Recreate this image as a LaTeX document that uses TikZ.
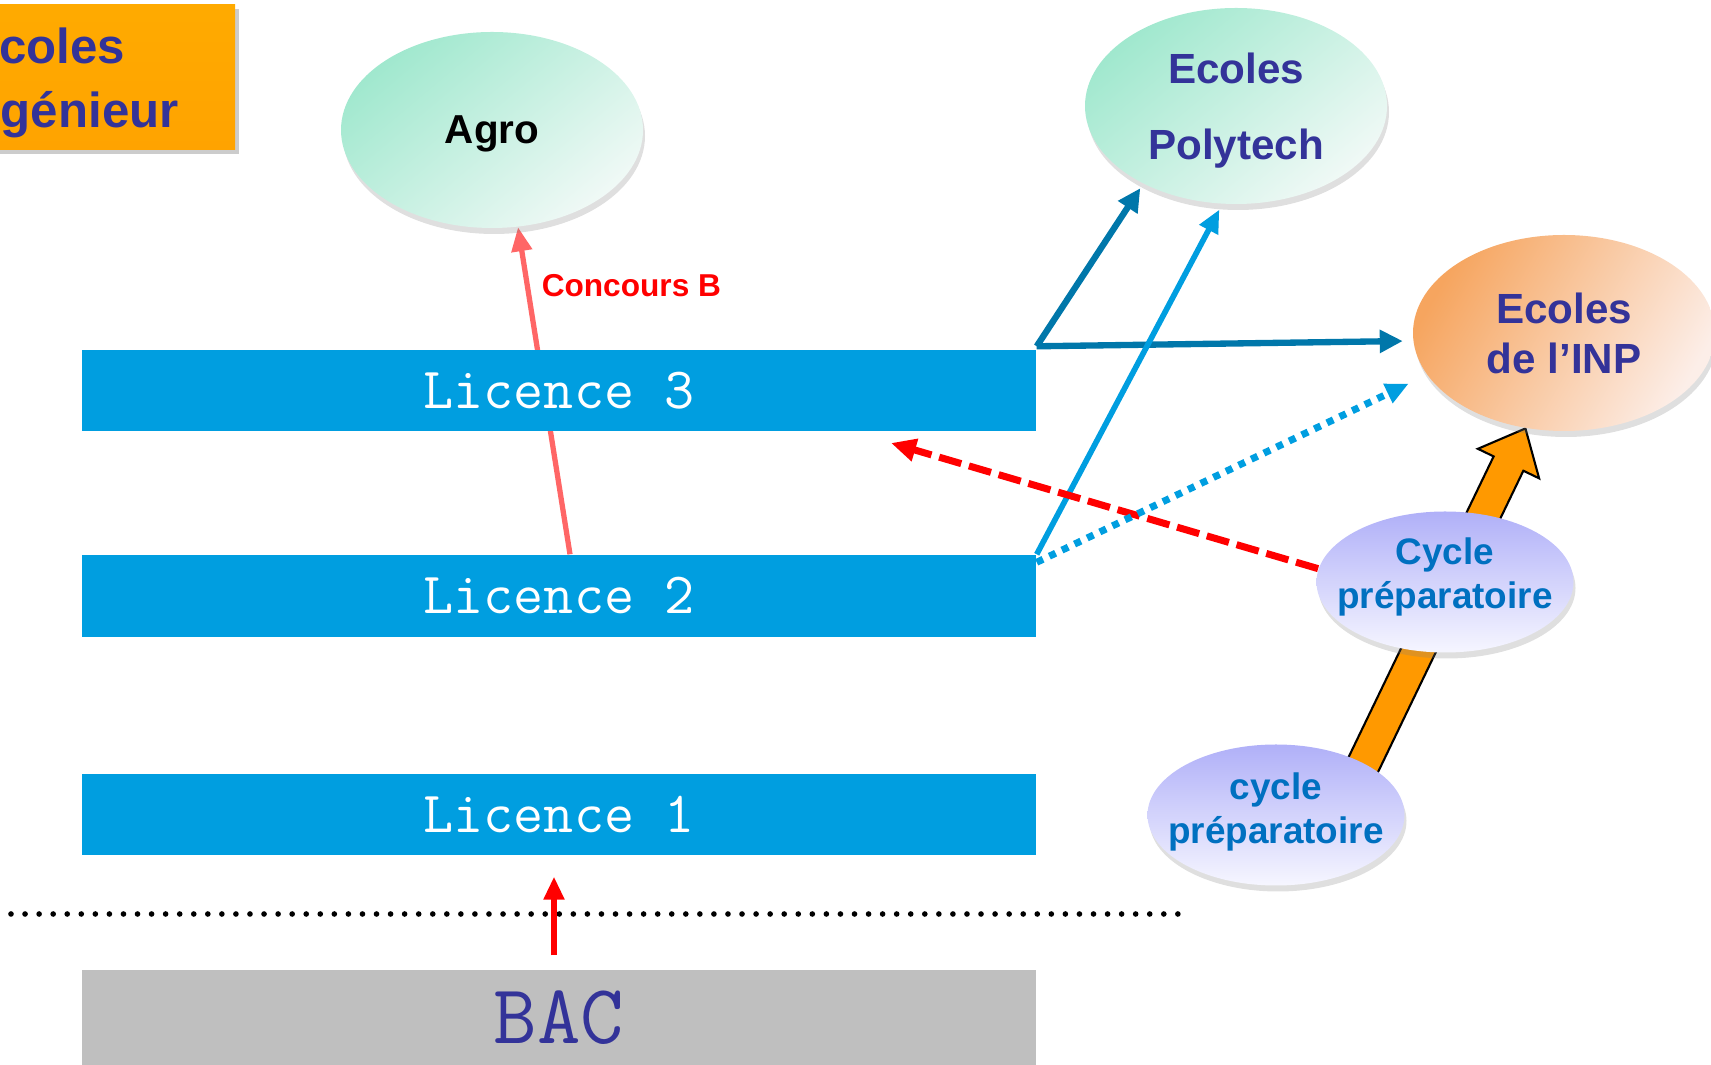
\documentclass[tikz,border=0pt]{standalone}
\usepackage{fontspec}
\setmainfont{Liberation Sans}
\usetikzlibrary{arrows.meta,shapes.geometric,shadows,calc}
\definecolor{barblue}{RGB}{0,158,224}
\definecolor{darkblue}{RGB}{51,51,153}
\definecolor{prepablue}{RGB}{0,112,192}
\definecolor{deepblue}{RGB}{0,119,170}
\definecolor{boxorange}{RGB}{255,163,0}
\definecolor{arroworange}{RGB}{255,153,0}
\definecolor{salmon}{RGB}{255,102,102}
\definecolor{mint}{RGB}{160,232,206}
\definecolor{palemint}{RGB}{240,249,246}
\definecolor{peach}{RGB}{246,165,95}
\definecolor{palepeach}{RGB}{252,238,232}
\definecolor{lavender}{RGB}{176,176,248}
\definecolor{palelavender}{RGB}{246,246,255}
\pgfdeclarelayer{back}
\pgfsetlayers{back,main}

\begin{document}
\begin{tikzpicture}
        \tikzstyle{levelbar}=[rectangle,fill=barblue,text=white,minimum width=9.54cm,minimum height=0.81cm,font=\ttfamily\fontsize{16.6}{19}\selectfont]
        \tikzstyle{ecole}=[ellipse,minimum width=3.02cm,minimum height=1.96cm,inner sep=0pt,align=center,text=darkblue,font=\bfseries\fontsize{12}{14.2}\selectfont,drop shadow={shadow xshift=0.02cm,shadow yshift=-0.06cm,opacity=0.25}]
        \tikzstyle{prepa}=[ellipse,minimum width=2.57cm,minimum height=1.41cm,inner xsep=-0.2cm,inner ysep=0pt,align=center,text=prepablue,top color=lavender,bottom color=palelavender,font=\bfseries\fontsize{10.5}{12.5}\selectfont,drop shadow={shadow xshift=0.02cm,shadow yshift=-0.06cm,opacity=0.25}]
        \tikzstyle{deeplink}=[deepblue,line width=1.8pt,-{Triangle[length=0.23cm,width=0.22cm]}]
        \tikzstyle{lightlink}=[barblue,line width=1.6pt,-{Triangle[length=0.23cm,width=0.2cm]}]
        \useasboundingbox (0,0) rectangle (17.11,10.65);
        \clip (0,0) rectangle (17.11,10.65);
        % levels
        \node [levelbar,fill=black!25,text=darkblue,minimum height=0.95cm,font=\ttfamily\fontsize{24}{28}\selectfont] (bac) at (5.59,0.475) {BAC};
        \node [levelbar] (lic1) at (5.59,2.505) {Licence 1};
        \node [levelbar,minimum height=0.82cm] (lic2) at (5.59,4.69) {Licence 2};
        \node [levelbar] (lic3) at (5.59,6.745) {Licence 3};
        \draw [line width=1.6pt,dash pattern=on 0pt off 4pt,line cap=round] (0.11,1.51) -- (11.84,1.51);
        % schools
        \node [rectangle,minimum width=3.78cm,minimum height=1.45cm,align=center,top color=boxorange!92!yellow,bottom color=boxorange,text=darkblue,text depth=0pt,font=\bfseries\fontsize{14}{18.2}\selectfont,drop shadow={shadow xshift=0.04cm,shadow yshift=-0.04cm,opacity=0.4}] (title) at (0.46,9.875) {Ecoles\\d’ingénieur};
        \node [ecole,top color=mint,bottom color=palemint,shading angle=40,text=black,text depth=-1.3pt,font=\bfseries\fontsize{11.5}{14}\selectfont] (agro) at (4.92,9.35) {Agro};
        \node [ecole,top color=mint,bottom color=palemint,shading angle=40,text depth=-0.6pt] (poly) at (12.36,9.59) {Ecoles\\[7.5pt]Polytech};
        \node [ecole,top color=peach,bottom color=palepeach,shading angle=60] (inp) at (15.64,7.32) {Ecoles\\de l’INP};
        \node [prepa,text depth=5.3pt] (cyc2) at (14.45,4.83) {Cycle\\préparatoire};
        \node [prepa,text depth=4.1pt] (cyc1) at (12.76,2.50) {cycle\\préparatoire};
        \coordinate (dashend) at (8.91,6.22);
        \coordinate (oa) at (13.39,2.50);
        \coordinate (ob) at (inp.248);
        \coordinate (hb) at ($(ob)!0.39cm!(oa)$);
        % links behind the nodes
        \begin{pgfonlayer}{back}
            \draw [salmon,line width=1.5pt,-{Triangle[length=0.24cm,width=0.2cm]}] ([xshift=0.11cm]lic2.north) -- (agro.285) node [pos=0.82,right,red,font=\bfseries\fontsize{9}{11}\selectfont] {Concours B};
            \draw [fill=arroworange,line width=0.6pt] ($(oa)!0.165cm!90:(ob)$) -- ($(hb)!0.165cm!90:(ob)$) -- ($(hb)!0.34cm!90:(ob)$) -- (ob) -- ($(hb)!0.34cm!-90:(ob)$) -- ($(hb)!0.165cm!-90:(ob)$) -- ($(oa)!0.165cm!-90:(ob)$) -- cycle;
        \end{pgfonlayer}
        \draw [red,line width=1.5pt,-{Triangle[length=0.23cm,width=0.2cm]},shorten <=0.14cm,shorten >=0.21cm] ([xshift=-0.05cm]bac.north) -- ([xshift=-0.05cm]lic1.south);
        \draw [deeplink,shorten >=0.05cm] ([yshift=0.03cm]lic3.north east) -- (poly.220);
        \draw [deeplink,shorten >=0.1cm] ([yshift=0.03cm]lic3.north east) -- (inp.183);
        \draw [lightlink,shorten >=0.06cm] (lic2.north east) -- (poly.262);
        \draw [red,line width=2pt,dash pattern=on 0.23cm off 0.08cm,-{Triangle[length=0.25cm,width=0.22cm]}] (cyc2.174) -- (dashend);
        \draw [lightlink,line width=2pt,dash pattern=on 0.07cm off 0.07cm,shorten >=0.2cm] ([yshift=-0.08cm]lic2.north east) -- (inp.197);
\end{tikzpicture}
\end{document}
